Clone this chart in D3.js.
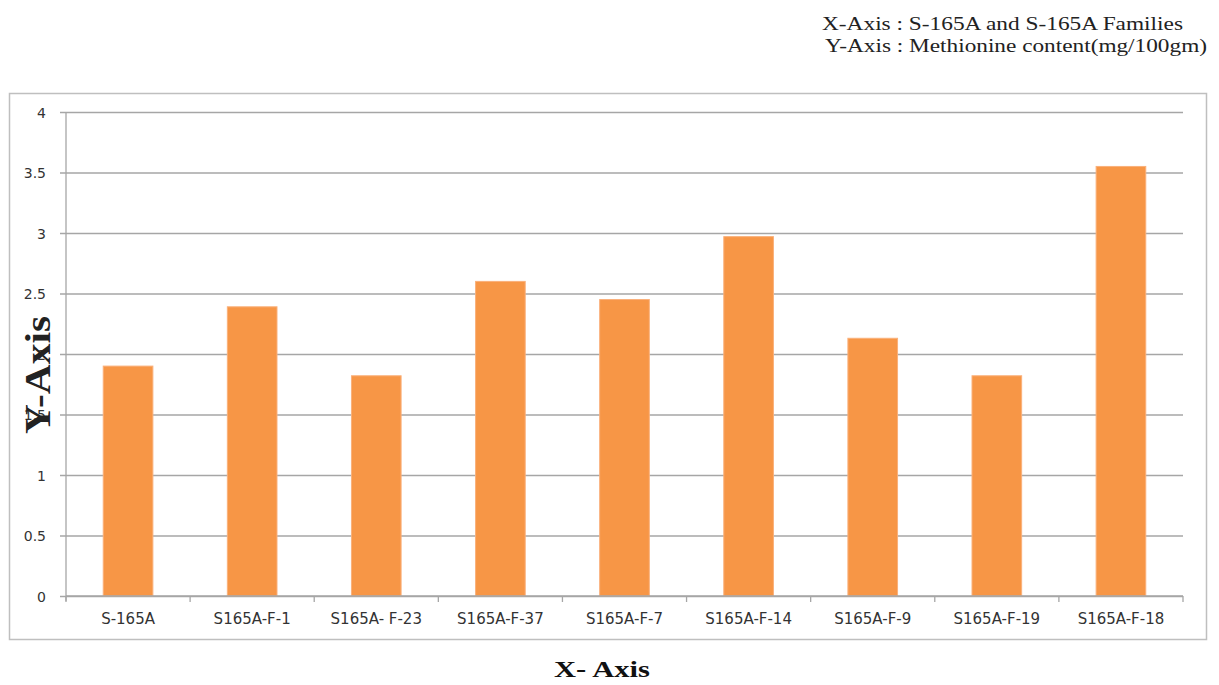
<!DOCTYPE html>
<html>
<head>
<meta charset="utf-8">
<script src="https://cdn.jsdelivr.net/npm/d3@7"></script>
<style>
  body { margin: 0; background: #fff; }
  svg { display: block; }
</style>
</head>
<body>
<div id="chart"></div>
<script>
// data
const families = ['S-165A', 'S165A-F-1', 'S165A- F-23', 'S165A-F-37', 'S165A-F-7',
                  'S165A-F-14', 'S165A-F-9', 'S165A-F-19', 'S165A-F-18'];
const methionine = [1.9, 2.39, 1.82, 2.6, 2.45, 2.97, 2.13, 1.82, 3.55];
const yTicks = [0, 0.5, 1, 1.5, 2, 2.5, 3, 3.5, 4];
const noteLines = ['X-Axis : S-165A and S-165A Families',
                   'Y-Axis : Methionine content(mg/100gm)'];

const W = 1219, H = 685;
const margin = { top: 112, left: 66, right: 36, bottom: 89 };
const width = W - margin.left - margin.right;
const height = H - margin.top - margin.bottom;

const svg = d3.select('#chart').append('svg')
    .attr('width', W)
    .attr('height', H);

// outer chart frame
svg.append('rect')
    .attr('x', 9.5).attr('y', 93.5)
    .attr('width', 1197).attr('height', 546)
    .attr('fill', 'none')
    .attr('stroke', '#bfbfbf')
    .attr('stroke-width', 1.5);

const g = svg.append('g')
    .attr('transform', `translate(${margin.left},${margin.top})`);

const data = families.map((f, i) => ({ name: f, value: methionine[i] }));

const x = d3.scaleBand()
    .domain(families)
    .range([0, width])
    .paddingInner(0.6)
    .paddingOuter(0.3);

const y = d3.scaleLinear()
    .domain([0, 4])
    .range([height, 0]);

// gridlines + y axis
const yAxis = d3.axisLeft(y)
    .tickValues(yTicks)
    .tickSize(-width - 6)
    .tickFormat(d3.format('~g'));

const yg = g.append('g')
    .attr('transform', 'translate(-6,0)')
    .call(yAxis);
yg.select('.domain').remove();
yg.selectAll('.tick line')
    .attr('stroke', '#a6a6a6')
    .attr('stroke-width', 1.3);
yg.selectAll('.tick text')
    .attr('x', -14)
    .attr('dy', '0.36em')
    .style('font-family', '"DejaVu Sans", Verdana, sans-serif')
    .style('font-size', '14px')
    .attr('fill', '#333');

// vertical axis line
g.append('line')
    .attr('x1', 0).attr('x2', 0)
    .attr('y1', 0).attr('y2', height + 5)
    .attr('stroke', '#a6a6a6')
    .attr('stroke-width', 1.3);

// bars
g.selectAll('.bar')
    .data(data)
    .enter()
    .append('rect')
    .attr('class', 'bar')
    .attr('x', d => x(d.name))
    .attr('y', d => y(d.value))
    .attr('width', x.bandwidth())
    .attr('height', d => height - y(d.value))
    .attr('fill', '#f79646')
    .attr('stroke', '#fab07a')
    .attr('stroke-width', 1);

// x axis with category boundary ticks
const xg = g.append('g')
    .attr('transform', `translate(0,${height})`);
xg.append('line')
    .attr('x1', 0).attr('x2', width)
    .attr('stroke', '#a6a6a6')
    .attr('stroke-width', 1.3);
xg.selectAll('.bound')
    .data(d3.range(families.length + 1))
    .enter()
    .append('line')
    .attr('x1', i => i * x.step())
    .attr('x2', i => i * x.step())
    .attr('y1', 0).attr('y2', 6)
    .attr('stroke', '#a6a6a6')
    .attr('stroke-width', 1.3);
xg.selectAll('.lab')
    .data(families)
    .enter()
    .append('text')
    .attr('x', d => x(d) + x.bandwidth() / 2)
    .attr('y', 28)
    .attr('text-anchor', 'middle')
    .style('font-family', '"DejaVu Sans", Verdana, sans-serif')
    .style('font-size', '15px')
    .attr('fill', '#333')
    .text(d => d);

// axis titles
svg.append('text')
    .attr('x', 602)
    .attr('y', 677)
    .attr('text-anchor', 'middle')
    .attr('textLength', 96)
    .attr('lengthAdjust', 'spacingAndGlyphs')
    .style('font-family', '"Liberation Serif", "Times New Roman", serif')
    .style('font-weight', 'bold')
    .style('font-size', '23px')
    .attr('fill', '#111')
    .text('X- Axis');

svg.append('text')
    .attr('transform', 'translate(50,375) rotate(-90)')
    .attr('text-anchor', 'middle')
    .attr('textLength', 118)
    .attr('lengthAdjust', 'spacingAndGlyphs')
    .style('font-family', '"Liberation Serif", "Times New Roman", serif')
    .style('font-weight', 'bold')
    .style('font-size', '35px')
    .attr('fill', '#222')
    .text('Y-Axis');

// note in the top right corner
svg.selectAll('.note')
    .data(noteLines)
    .enter()
    .append('text')
    .attr('x', (d, i) => i === 0 ? 822 : 825)
    .attr('y', (d, i) => 30 + i * 22)
    .attr('textLength', (d, i) => i === 0 ? 361 : 382)
    .attr('lengthAdjust', 'spacingAndGlyphs')
    .style('font-family', '"Liberation Serif", "Times New Roman", serif')
    .style('font-size', '19px')
    .attr('fill', '#222')
    .text(d => d);
</script>
</body>
</html>
